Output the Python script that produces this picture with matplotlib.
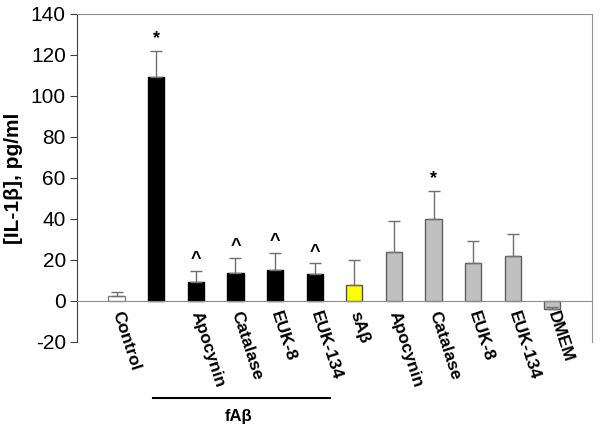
import numpy as np
import matplotlib
matplotlib.use('Agg')
import matplotlib.pyplot as plt

plt.rcParams['font.family'] = ['Liberation Sans', 'DejaVu Sans']
plt.rcParams['axes.unicode_minus'] = False

labels = ["Control", "", "Apocynin", "Catalase", "EUK-8", "EUK-134",
          "sAβ", "Apocynin", "Catalase", "EUK-8", "EUK-134", "DMEM"]
values = [2.3, 109.5, 9.4, 13.8, 15.1, 13.1, 7.6, 23.8, 39.8, 18.3, 21.7, -4.0]
errors = [1.9, 12.5, 5.3, 7.3, 8.4, 5.2, 12.5, 15.0, 13.9, 10.9, 10.9, 1.0]
marks = ["", "*", "^", "^", "^", "^", "", "", "*", "", "", ""]
group_label = "fAβ"

fill = ["white", "black", "black", "black", "black", "black",
        "#ffff00", "#c0c0c0", "#c0c0c0", "#c0c0c0", "#c0c0c0", "#c0c0c0"]
edge = ["#808080", "black", "black", "black", "black", "black",
        "#505050", "#606060", "#606060", "#606060", "#606060", "#606060"]

fig = plt.figure(figsize=(6, 4.3), dpi=100)
ax = fig.add_axes([0.1283, 0.2047, 0.8583, 0.7628])

x = np.arange(1, len(values) + 1)
ax.bar(x, values, width=0.41, color=fill, edgecolor=edge, linewidth=1, zorder=2)
ax.errorbar(x, values, yerr=[np.zeros(len(errors)), errors], fmt='none',
            ecolor='#707070', elinewidth=1, capsize=4, capthick=1, zorder=3)

# significance marks above the error bars
for xi, v, e, m in zip(x, values, errors, marks):
    if not m:
        continue
    off = 3 if m == "*" else 2
    ax.annotate(m, (xi, v + e), xytext=(0, off), textcoords='offset points',
                ha='center', va='bottom', fontsize=13, fontweight='bold')

ax.set_xlim(0, len(values) + 1)
ax.set_ylim(-20, 140)
ax.set_yticks(np.arange(-20, 141, 20))
ax.tick_params(axis='y', labelsize=15, length=5, direction='out', color='#404040', pad=3)
ax.set_ylabel("[IL-1β], pg/ml", fontsize=15, fontweight='bold')
ax.yaxis.set_label_coords(-0.104, 0.5)

ax.spines['bottom'].set_position(('data', 0))
ax.spines['bottom'].set_color('#909090')
ax.spines['top'].set_color('#909090')
ax.spines['right'].set_color('#909090')
ax.spines['left'].set_color('#404040')
ax.set_xticks(x)
ax.set_xticklabels(labels, rotation=-72, ha='left', va='center',
                   rotation_mode='anchor', fontsize=12.5, fontweight='bold')
ax.tick_params(axis='x', length=0, pad=8)

# group bracket for fAβ
ax.plot([1.92, 6.39], [-47.2, -47.2], color='black', lw=1.5, clip_on=False)
ax.text(4.07, -56.5, group_label, ha='center', va='center',
        fontsize=12, fontweight='bold')

plt.savefig("out.png", dpi=100)
plt.close()
